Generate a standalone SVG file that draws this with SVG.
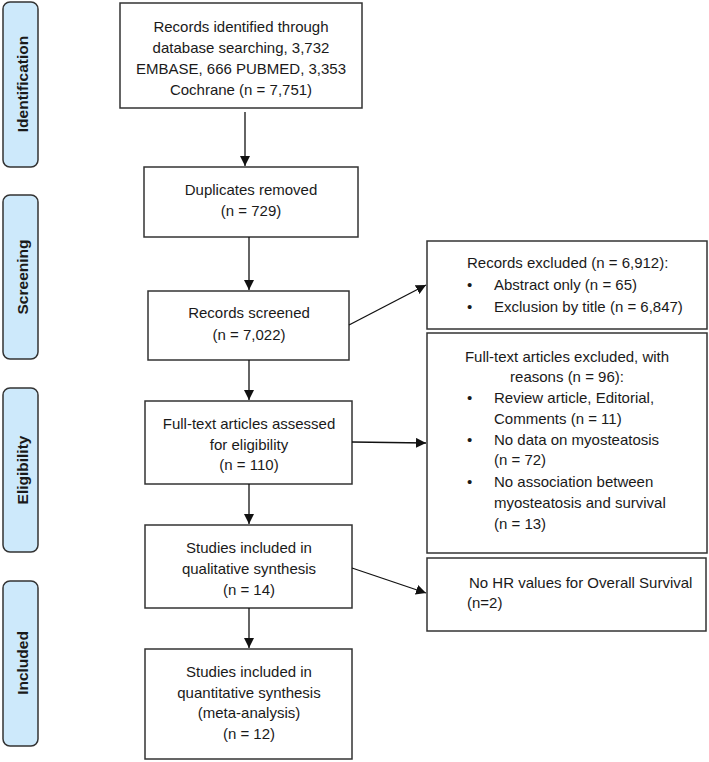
<svg xmlns="http://www.w3.org/2000/svg" width="709" height="762" viewBox="0 0 709 762">
<style>
.box{fill:#fff;stroke:#333;stroke-width:1.5}
.phase{fill:#cde9fb;stroke:#333;stroke-width:1.5}
.t{font-family:"Liberation Sans",Arial,sans-serif;font-size:15px;fill:#1a1a1a}
.c{text-anchor:middle}
.pl{font-family:"Liberation Sans",Arial,sans-serif;font-size:15.5px;font-weight:bold;fill:#1a1a1a;text-anchor:middle}
.con{stroke:#111;stroke-width:1.3;fill:none;marker-end:url(#ah)}
</style>
<defs>
<marker id="ah" viewBox="0 0 10 10" refX="10" refY="5" markerWidth="10" markerHeight="10" markerUnits="userSpaceOnUse" orient="auto">
<path d="M0,0 L10,5 L0,10 z" fill="#111"/>
</marker>
</defs>
<g id="phase-identification"><rect class="phase" x="3" y="2" width="35" height="165" rx="7"/><text class="pl" transform="translate(28,84) rotate(-90)">Identification</text></g>
<g id="phase-screening"><rect class="phase" x="3" y="195" width="35" height="164" rx="7"/><text class="pl" transform="translate(28,277) rotate(-90)">Screening</text></g>
<g id="phase-eligibility"><rect class="phase" x="3" y="388" width="35" height="164" rx="7"/><text class="pl" transform="translate(28,470) rotate(-90)">Eligibility</text></g>
<g id="phase-included"><rect class="phase" x="3" y="581" width="35" height="165" rx="7"/><text class="pl" transform="translate(28,663) rotate(-90)">Included</text></g>

<g id="n-identified"><rect class="box" x="120" y="3" width="242" height="105"/>
<text class="t c" x="241" y="32">Records identified through</text>
<text class="t c" x="241" y="53">database searching, 3,732</text>
<text class="t c" x="241" y="74">EMBASE, 666 PUBMED, 3,353</text>
<text class="t c" x="241" y="95">Cochrane (n = 7,751)</text></g>
<g id="n-duplicates"><rect class="box" x="144" y="167" width="214" height="70"/>
<text class="t c" x="251" y="195">Duplicates removed</text>
<text class="t c" x="251" y="216">(n = 729)</text></g>
<g id="n-screened"><rect class="box" x="148" y="291" width="201" height="69"/>
<text class="t c" x="249" y="318">Records screened</text>
<text class="t c" x="249" y="340">(n = 7,022)</text></g>
<g id="n-fulltext"><rect class="box" x="145" y="401" width="207" height="83"/>
<text class="t c" x="249" y="429">Full-text articles assessed</text>
<text class="t c" x="249" y="450">for eligibility</text>
<text class="t c" x="249" y="470">(n = 110)</text></g>
<g id="n-qualitative"><rect class="box" x="145" y="525" width="207" height="83"/>
<text class="t c" x="249" y="553">Studies included in</text>
<text class="t c" x="249" y="574">qualitative synthesis</text>
<text class="t c" x="249" y="595">(n = 14)</text></g>
<g id="n-quantitative"><rect class="box" x="145" y="649" width="207" height="110"/>
<text class="t c" x="249" y="677">Studies included in</text>
<text class="t c" x="249" y="698">quantitative synthesis</text>
<text class="t c" x="249" y="718">(meta-analysis)</text>
<text class="t c" x="249" y="739">(n = 12)</text></g>

<g id="n-excluded1"><rect class="box" x="427" y="241" width="280" height="88"/>
<text class="t" x="467" y="268">Records excluded (n = 6,912):</text>
<text class="t" x="467" y="290">•</text><text class="t" x="494" y="290">Abstract only (n = 65)</text>
<text class="t" x="467" y="312">•</text><text class="t" x="494" y="312">Exclusion by title (n = 6,847)</text></g>
<g id="n-excluded2"><rect class="box" x="427" y="333" width="280" height="220"/>
<text class="t c" x="567" y="362">Full-text articles excluded, with</text>
<text class="t c" x="567" y="382">reasons (n = 96):</text>
<text class="t" x="467" y="403">•</text><text class="t" x="494" y="403">Review article, Editorial,</text>
<text class="t" x="494" y="424">Comments (n = 11)</text>
<text class="t" x="467" y="445">•</text><text class="t" x="494" y="445">No data on myosteatosis</text>
<text class="t" x="494" y="465">(n = 72)</text>
<text class="t" x="467" y="487">•</text><text class="t" x="494" y="487">No association between</text>
<text class="t" x="494" y="508">myosteatosis and survival</text>
<text class="t" x="494" y="529">(n = 13)</text></g>
<g id="n-excluded3"><rect class="box" x="427" y="558" width="279" height="73"/>
<text class="t" x="469" y="588">No HR values for Overall Survival</text>
<text class="t" x="467" y="608">(n=2)</text></g>

<g id="connectors">
<line class="con" x1="245" y1="112" x2="245" y2="166"/>
<line class="con" x1="249" y1="237" x2="249" y2="290"/>
<line class="con" x1="249" y1="360" x2="249" y2="400"/>
<line class="con" x1="249" y1="484" x2="249" y2="524"/>
<line class="con" x1="249" y1="608" x2="249" y2="648"/>
<line class="con" x1="349" y1="325" x2="426" y2="285"/>
<line class="con" x1="352" y1="442" x2="426" y2="443"/>
<line class="con" x1="352" y1="568" x2="426" y2="593"/>
</g>
</svg>
